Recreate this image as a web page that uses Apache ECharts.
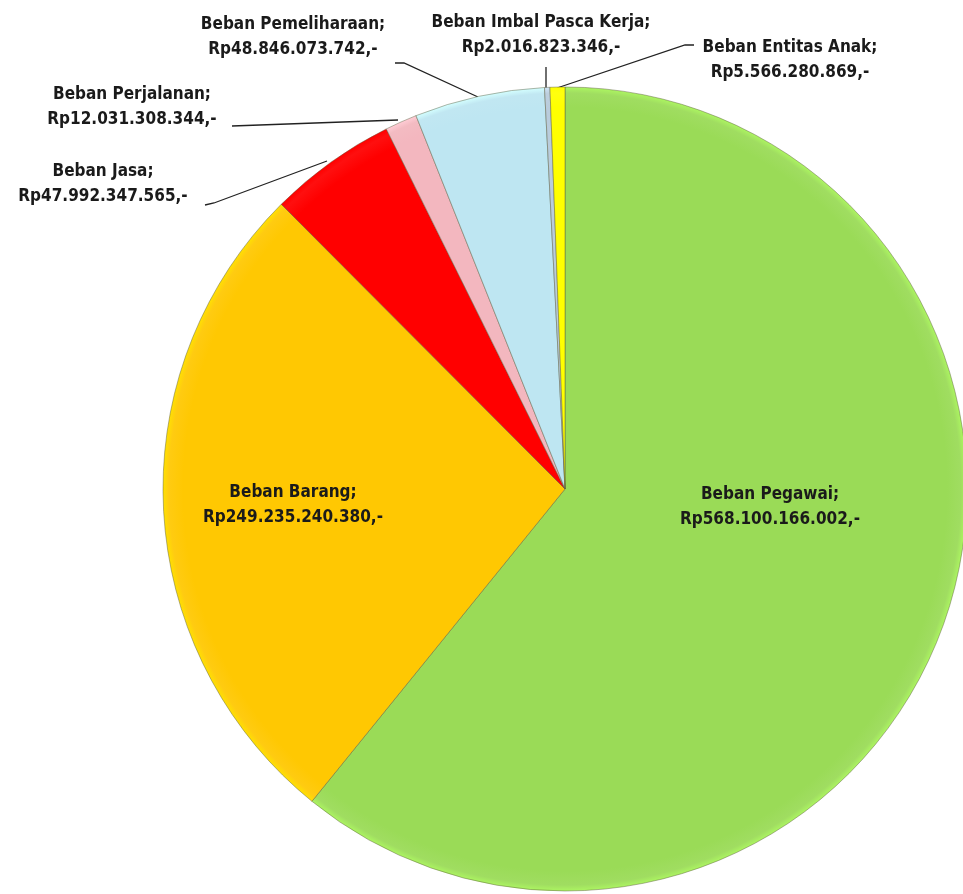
<!DOCTYPE html>
<html>
<head>
<meta charset="utf-8">
<script src="https://cdn.jsdelivr.net/npm/echarts@6/dist/echarts.min.js"></script>
<style>html,body{margin:0;padding:0;background:#fff}#c{width:963px;height:894px}</style>
</head>
<body>
<div id="c"></div>
<script>
var categories = ['Beban Pegawai', 'Beban Barang', 'Beban Jasa', 'Beban Perjalanan', 'Beban Pemeliharaan', 'Beban Imbal Pasca Kerja', 'Beban Entitas Anak'];
var values = [568100166002, 249235240380, 47992347565, 12031308344, 48846073742, 2016823346, 5566280869];
var valueLabels = ['Rp568.100.166.002,-', 'Rp249.235.240.380,-', 'Rp47.992.347.565,-', 'Rp12.031.308.344,-', 'Rp48.846.073.742,-', 'Rp2.016.823.346,-', 'Rp5.566.280.869,-'];
var colors = ['#9ADB57', '#FFC802', '#FF0000', '#F3B7BF', '#BEE6F2', '#B9CCDC', '#FFFF00'];

var CX = 565, CY = 489, R = 402;
// label layout: centre of text block and leader line points
var layouts = [
  {x: 770, y: 507, line: null},
  {x: 293, y: 505, line: null},
  {x: 103, y: 184, line: [[205, 205], [214, 203], [327, 161]]},
  {x: 132, y: 107, line: [[232, 126], [398, 120]]},
  {x: 293, y: 37, line: [[395, 63], [404, 63], [478, 97]]},
  {x: 541, y: 35, line: [[546, 67], [546, 88]]},
  {x: 790, y: 60, line: [[694, 45], [685, 45], [557, 88]]}
];

function grad(c) {
  return {
    type: 'radial', x: CX, y: CY, r: R, global: true,
    colorStops: [
      {offset: 0, color: c},
      {offset: 0.95, color: c},
      {offset: 0.985, color: echarts.color.lift(c, 0.06)},
      {offset: 1, color: echarts.color.lift(c, -0.12)}
    ]
  };
}

var data = categories.map(function (n, i) {
  var inside = i < 2;
  return {
    name: n,
    value: values[i],
    itemStyle: {color: grad(colors[i])},
    label: {formatter: n + ';\n' + valueLabels[i], position: inside ? 'inside' : 'outside'},
    labelLine: {show: !inside}
  };
});

var chart = echarts.init(document.getElementById('c'), null, {renderer: 'canvas'});
chart.setOption({
  animation: false,
  series: [{
    type: 'pie',
    center: [CX, CY],
    radius: [0, R],
    startAngle: 90,
    clockwise: true,
    avoidLabelOverlap: false,
    data: data,
    itemStyle: {borderColor: 'rgba(90,90,60,0.45)', borderWidth: 1},
    label: {
      show: true,
      color: '#1a1a1a',
      fontFamily: '"DejaVu Sans Condensed", "DejaVu Sans", sans-serif',
      fontWeight: 'bold',
      fontSize: 17,
      lineHeight: 25,
      align: 'center',
      overflow: 'none',
      width: 400
    },
    labelLine: {lineStyle: {color: '#222', width: 1.3}, length: 10, length2: 10},
    labelLayout: function (p) {
      var L = layouts[p.dataIndex];
      var o = {x: L.x, y: L.y, align: 'center', verticalAlign: 'middle', hideOverlap: false};
      if (L.line) o.labelLinePoints = L.line;
      return o;
    }
  }]
});
</script>
</body>
</html>
